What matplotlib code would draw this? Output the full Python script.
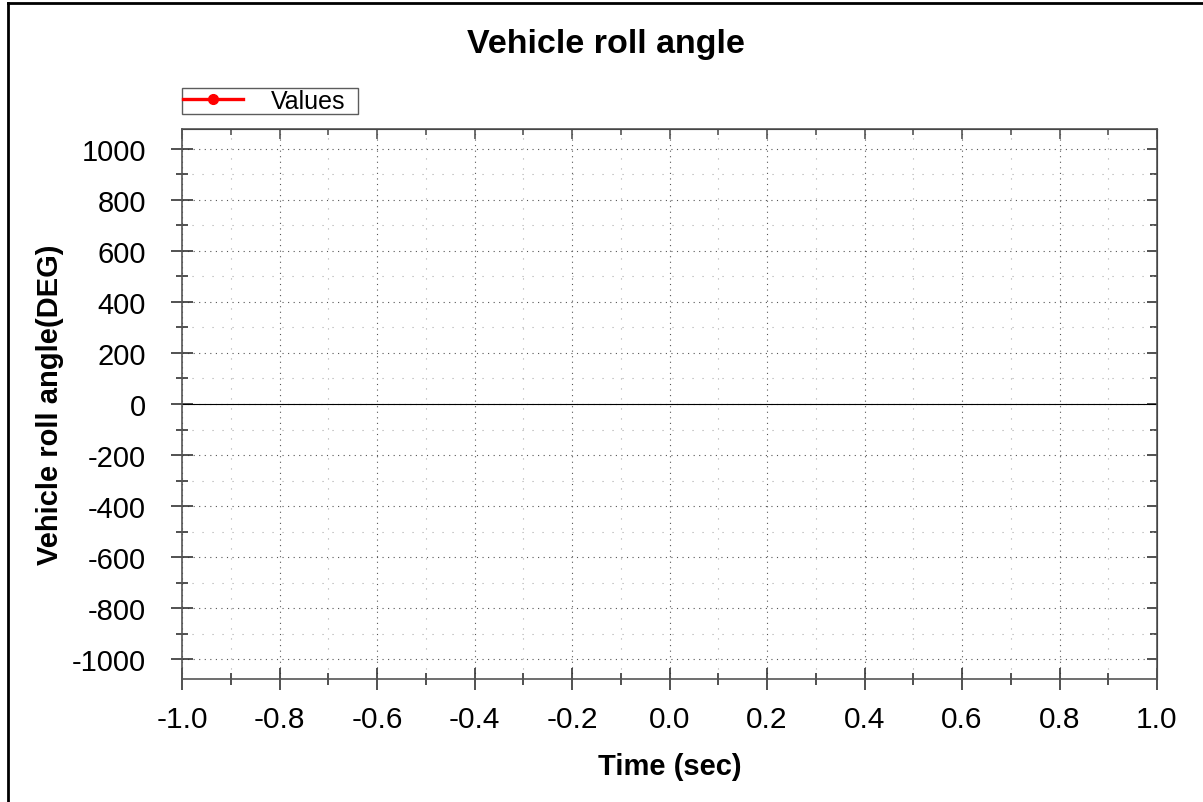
import numpy as np
import matplotlib.pyplot as plt
from matplotlib.lines import Line2D
from matplotlib.ticker import MultipleLocator, FormatStrFormatter

plt.rcParams['font.family'] = ['Liberation Sans', 'DejaVu Sans']
plt.rcParams['axes.unicode_minus'] = False

# data (the series has no points in the reference)
time_sec = []
roll_deg = []
series_name = 'Values'

x_range = (-1.0, 1.0)
y_range = (-1078, 1078)

fig = plt.figure(figsize=(12.03, 8.03), dpi=100)
ax = fig.add_axes([182 / 1203, 1 - 680 / 803, (1157 - 182) / 1203, 550 / 803])

ax.plot(time_sec, roll_deg, color='red', lw=2.4, marker='o', ms=7, label=series_name)
ax.axhline(0, color='black', lw=0.8, zorder=1)

ax.set_xlim(*x_range)
ax.set_ylim(*y_range)
ax.xaxis.set_major_locator(MultipleLocator(0.2))
ax.xaxis.set_minor_locator(MultipleLocator(0.1))
ax.yaxis.set_major_locator(MultipleLocator(200))
ax.yaxis.set_minor_locator(MultipleLocator(100))
ax.xaxis.set_major_formatter(FormatStrFormatter('%.1f'))

ax.grid(which='major', color='#555555', lw=0.8, ls=(0, (1, 4)))
ax.grid(which='minor', color='#aaaaaa', lw=0.8, ls=(0, (1, 8)))
ax.set_axisbelow(True)

for s in ax.spines.values():
    s.set_color('#555555')
    s.set_linewidth(1.2)

ax.tick_params(which='both', direction='inout', top=False, right=False,
               color='#333333', width=1.2, labelsize=21.5)
ax.tick_params(axis='y', labelsize=21)
ax.tick_params(which='major', length=15.5)
ax.tick_params(which='minor', length=8)
ax.tick_params(axis='y', which='major', pad=18)
ax.tick_params(axis='x', which='major', pad=11)

# inward ticks on top and right
top = ax.secondary_xaxis('top')
top.xaxis.set_major_locator(MultipleLocator(0.2))
top.xaxis.set_minor_locator(MultipleLocator(0.1))
top.tick_params(which='both', direction='in', labeltop=False, color='#555555', width=1.2)
top.tick_params(which='major', length=7.5)
top.tick_params(which='minor', length=4)
right = ax.secondary_yaxis('right')
right.yaxis.set_major_locator(MultipleLocator(200))
right.yaxis.set_minor_locator(MultipleLocator(100))
right.tick_params(which='both', direction='in', labelright=False, color='#333333', width=1.2)
right.tick_params(which='major', length=7.5)
right.tick_params(which='minor', length=5)

ax.set_xlabel('Time (sec)', fontsize=21, fontweight='bold', labelpad=14)
ax.set_ylabel('Vehicle roll angle(DEG)', fontsize=21, fontweight='bold', labelpad=6)
fig.text(606 / 1203, 1 - 45 / 803, 'Vehicle roll angle', fontsize=24.5, fontweight='bold',
         ha='center', va='center')

leg = ax.legend(loc='lower left', bbox_to_anchor=(0, 1.027, 176 / 975, 0.05), mode='expand',
                borderaxespad=0, fancybox=False, edgecolor='#333333', fontsize=18,
                handlelength=2.4, borderpad=0.05, handletextpad=1.1)
leg.get_frame().set_linewidth(1.0)

# partial figure border
fig.add_artist(Line2D([8 / 1203, 1], [1 - 4 / 803, 1 - 4 / 803], color='black', lw=2))
fig.add_artist(Line2D([8 / 1203, 8 / 1203], [0, 1 - 4 / 803], color='black', lw=2))

fig.savefig('out.png', dpi=100)
